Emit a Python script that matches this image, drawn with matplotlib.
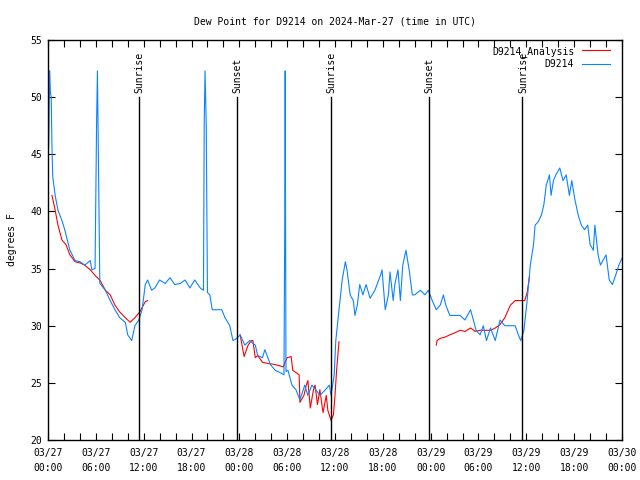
import numpy as np
import matplotlib.pyplot as plt

# hours since 2024-03-27 00:00 UTC
obs_hours = [0.0, 0.1, 0.2, 0.3, 0.4, 0.5, 0.6, 0.9, 1.25, 1.75, 2.1, 2.75, 3.4, 4.0, 4.6, 5.3, 5.5, 5.9,
             6.1, 6.2, 6.35, 6.5, 7.2, 7.8, 8.4, 9.0, 9.7, 10.0, 10.5, 10.9, 11.4, 11.8, 12.2, 12.5, 13.0,
             13.4, 14.0, 14.7, 15.3, 15.9, 16.6, 17.2, 17.8, 18.4, 19.1, 19.5, 19.6, 19.7, 19.85, 20.0,
             20.3, 20.6, 21.0, 21.8, 22.2, 22.8, 23.2, 23.7, 24.1, 24.7, 25.3, 26.0, 26.3, 26.9, 27.2,
             27.9, 28.5, 29.1, 29.6, 29.7, 29.75, 29.85, 30.1, 30.6, 31.1, 31.6, 32.2, 32.6, 33.1, 33.6,
             34.1, 34.8, 35.3, 35.5, 35.9, 36.1, 36.5, 36.9, 37.3, 37.5, 37.9, 38.3, 38.5, 38.8, 39.1,
             39.5, 39.9, 40.4, 41.0, 41.7, 41.9, 42.3, 42.7, 42.9, 43.3, 43.5, 43.9, 44.2, 44.5, 44.9,
             45.3, 45.7, 46.0, 46.7, 47.3, 47.7, 48.2, 48.7, 49.2, 49.6, 49.9, 50.4, 51.1, 51.7, 52.3,
             53.0, 53.2, 53.7, 54.2, 54.6, 55.0, 55.5, 56.1, 56.7, 57.3, 58.0, 58.6, 59.0, 59.3, 59.7,
             60.1, 60.5, 60.9, 61.1, 61.5, 61.9, 62.2, 62.5, 62.9, 63.1, 63.4, 63.7, 64.2, 64.6, 65.0,
             65.4, 65.7, 66.1, 66.5, 66.9, 67.3, 67.7, 68.0, 68.4, 68.6, 69.0, 69.3, 69.6, 70.0, 70.4,
             70.8, 71.2, 71.6, 72.0]
obs_dewpt = [44.5, 46.0, 52.3, 50.4, 50.0, 45.5, 43.0, 41.4, 40.1, 39.2, 38.4, 36.6, 35.7, 35.6, 35.3, 35.7,
             34.9, 35.0, 48.0, 52.3, 43.0, 33.7, 33.1, 32.2, 31.4, 30.7, 30.3, 29.2, 28.7, 30.0, 30.5,
             31.4, 33.6, 34.0, 33.1, 33.3, 34.0, 33.7, 34.2, 33.6, 33.7, 34.0, 33.3, 34.0, 33.3, 33.1,
             48.0, 52.3, 47.5, 32.9, 32.7, 31.4, 31.4, 31.4, 30.7, 30.0, 28.7, 28.9, 29.2, 28.3, 28.7,
             28.3, 27.4, 27.2, 27.9, 26.6, 26.1, 25.9, 25.7, 39.1, 52.3, 26.0, 26.1, 24.8, 24.4, 23.5,
             24.8, 23.9, 24.8, 24.4, 23.9, 24.4, 24.8, 23.9, 25.7, 28.7, 31.4, 34.0, 35.6, 34.9, 32.7,
             32.2, 30.9, 31.8, 33.6, 32.7, 33.6, 32.4, 33.1, 34.4, 34.9, 31.4, 32.7, 34.7, 32.2, 33.6,
             34.9, 32.2, 35.3, 36.6, 34.9, 32.7, 32.7, 33.1, 32.7, 33.1, 32.2, 31.4, 31.8, 32.7, 31.8,
             30.9, 30.9, 30.9, 30.5, 31.4, 30.9, 29.6, 29.2, 30.0, 28.7, 29.8, 28.7, 30.5, 30.0, 30.0,
             30.0, 29.2, 28.7, 29.6, 32.2, 35.3, 37.1, 38.8, 39.1, 39.7, 40.6, 42.3, 43.2, 41.4, 42.7,
             43.2, 43.8, 42.7, 43.2, 41.4, 42.7, 41.0, 39.7, 38.8, 38.4, 38.8, 37.1, 36.6, 38.8, 36.2,
             35.3, 35.7, 36.2, 34.0, 33.6, 34.4, 35.3, 35.9]

# analysis series, NaN marks a gap
ana_hours = [0.5, 0.9, 1.25, 1.75, 2.25, 2.75, 3.4, 4.0, 4.6, 5.3, 5.9, 6.5, 7.2, 7.8, 8.4, 9.0, 9.7, 10.3,
             10.9, 11.5, 12.2, 12.5, 18.0,
             24.1, 24.6, 25.1, 25.5, 25.7, 26.0, 26.3, 26.9, 27.6, 28.5, 29.5, 30.0, 30.5, 30.7, 31.5,
             31.6, 32.1, 32.4, 32.6, 32.9, 33.3, 33.5, 33.8, 34.1, 34.5, 34.9, 35.1, 35.5, 35.8, 36.0,
             36.2, 36.5, 42.0,
             48.7, 48.8, 49.2, 49.8, 50.4, 51.1, 51.7, 52.3, 53.0, 53.6, 54.2, 54.8, 55.5, 56.1, 56.7,
             57.3, 58.0, 58.6, 59.2, 59.8, 60.1, 60.4]
ana_dewpt = [41.4, 40.1, 38.8, 37.5, 37.1, 36.2, 35.6, 35.5, 35.3, 34.9, 34.4, 34.0, 33.1, 32.7, 31.8, 31.2,
             30.7, 30.3, 30.7, 31.2, 32.1, 32.2, np.nan,
             29.2, 27.3, 28.3, 28.7, 28.7, 27.2, 27.4, 26.8, 26.7, 26.6, 26.4, 27.2, 27.3, 26.1, 25.7,
             23.3, 23.9, 24.8, 25.2, 22.8, 24.4, 24.8, 23.1, 24.4, 22.4, 23.9, 22.6, 21.7, 22.2, 23.9,
             26.1, 28.6, np.nan,
             28.3, 28.7, 28.9, 29.0, 29.2, 29.4, 29.6, 29.5, 29.8, 29.5, 29.6, 29.6, 29.6, 29.8, 30.1,
             30.7, 31.8, 32.2, 32.2, 32.2, 32.9, 34.3]

sun_hours = [11.42, 23.7, 35.5, 47.8, 59.5]
sun_labels = ['Sunrise', 'Sunset', 'Sunrise', 'Sunset', 'Sunrise']

tick_hours = list(range(0, 73, 6))
tick_labels = ['03/27\n00:00', '03/27\n06:00', '03/27\n12:00', '03/27\n18:00',
               '03/28\n00:00', '03/28\n06:00', '03/28\n12:00', '03/28\n18:00',
               '03/29\n00:00', '03/29\n06:00', '03/29\n12:00', '03/29\n18:00',
               '03/30\n00:00']

plt.rcParams['font.family'] = 'DejaVu Sans Mono'
plt.rcParams['font.size'] = 7

fig = plt.figure(figsize=(6.4, 4.8), dpi=100)
ax = fig.add_axes([48 / 640, 40 / 480, 574 / 640, 400 / 480])

ax.plot(ana_hours, ana_dewpt, color='#ff0000', linewidth=0.8, label='D9214_Analysis')
ax.plot(obs_hours, obs_dewpt, color='#0a84ff', linewidth=0.8, label='D9214')

# sunrise / sunset markers
for h, lab in zip(sun_hours, sun_labels):
    ax.plot([h, h], [20, 50], color='black', linewidth=1.0)
    ax.text(h + 0.1, 50.4, lab, rotation=90, ha='center', va='bottom')

ax.set_xlim(0, 72)
ax.set_ylim(20, 55)
ax.set_xticks(tick_hours)
ax.set_xticklabels(tick_labels, linespacing=1.55)
ax.set_xticks(range(0, 73, 2), minor=True)
ax.set_yticks(range(20, 56, 5))
ax.tick_params(which='both', direction='in', top=True, right=True, length=5, width=0.8, pad=4)
ax.tick_params(axis='x', pad=6)
for s in ax.spines.values():
    s.set_linewidth(1.0)

ax.set_title('Dew Point for D9214 on 2024-Mar-27 (time in UTC)', fontsize=7, pad=11)
ax.set_ylabel('degrees F', labelpad=10)

ax.legend(loc='upper right', bbox_to_anchor=(1 - 6 / 574, 1.0), frameon=False, markerfirst=False,
          handlelength=2.9, handletextpad=0.8, labelspacing=0.25, borderaxespad=0.2)

fig.savefig('out.png', dpi=100)
